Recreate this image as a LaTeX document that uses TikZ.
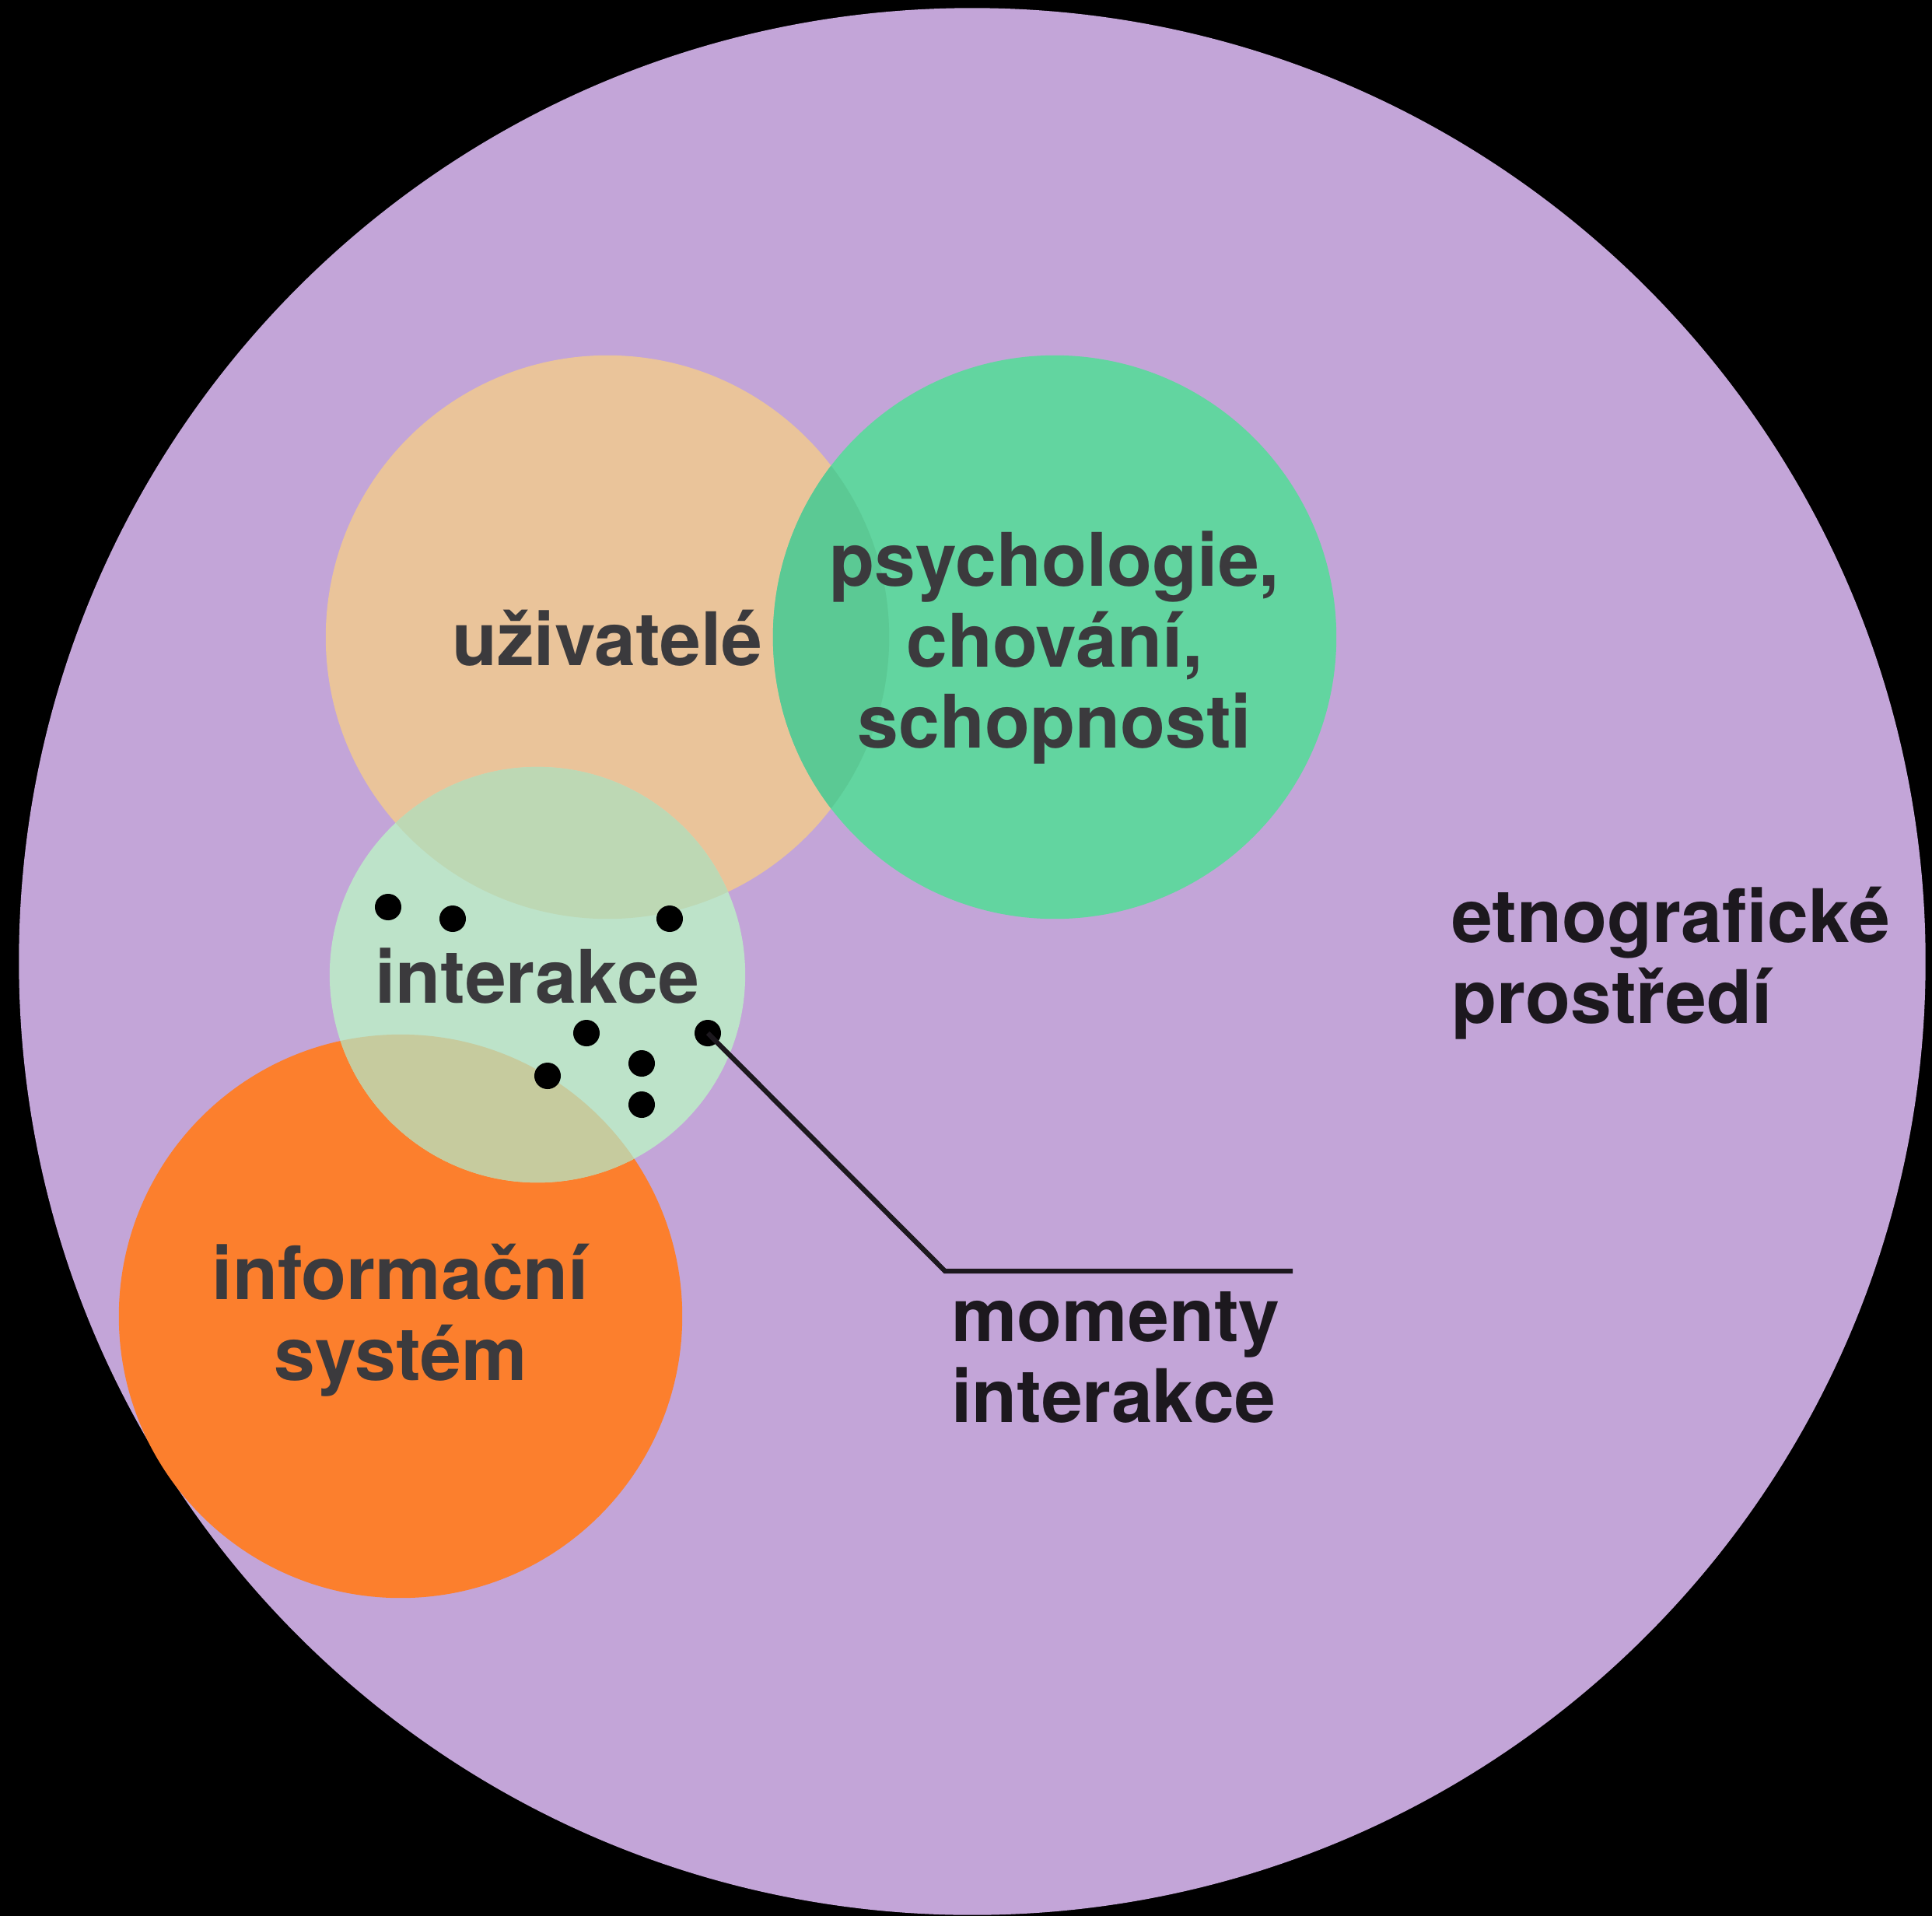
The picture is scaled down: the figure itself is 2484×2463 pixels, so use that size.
\documentclass[tikz,border=0pt]{standalone}
\usepackage{fontspec}
\setmainfont{TeX Gyre Heros}

\definecolor{lilac}{HTML}{C3A5D8}
\definecolor{peach}{HTML}{EAC49A}
\definecolor{leafgreen}{HTML}{62D5A0}
\definecolor{deepgreen}{HTML}{5BC994}
\definecolor{mint}{HTML}{BDE3C9}
\definecolor{mintpeach}{HTML}{BDD8B4}
\definecolor{mintorange}{HTML}{C6CB9E}
\definecolor{sysorange}{HTML}{FC7F2D}
\definecolor{textgrey}{HTML}{3B3A3D}
\definecolor{textblack}{HTML}{1C181E}

\tikzset{
  area/.style={circle, inner sep=0pt, minimum size=7.24cm},
  circtext/.style={font=\bfseries\fontsize{27}{29.5}\selectfont, text=textgrey, align=center, anchor=base},
  outertext/.style={font=\bfseries\fontsize{27}{29.5}\selectfont, text=textblack, align=left, anchor=base west},
  moment/.style={circle, fill=black, inner sep=0pt, minimum size=0.34cm}
}

\begin{document}
\begin{tikzpicture}[x=0.01cm, y=-0.01cm]
            \useasboundingbox (0,0) rectangle (2484,2463);
            \fill[black] (0,0) rectangle (2484,2463);

            % Circles with manual coordinates
            \node[circle, fill=lilac, inner sep=0pt, minimum size=24.5cm] (env) at (1250,1236) {};
            \node[area, fill=peach] (users) at (781,819) {};
            \node[area, fill=sysorange] (system) at (515,1692) {};
            \node[area, fill=leafgreen] (psych) at (1356,819) {};
            \begin{scope}
                \clip (781,819) circle[radius=3.62cm];
                \fill[deepgreen] (1356,819) circle[radius=3.62cm];
            \end{scope}
            \node[circle, fill=mint, inner sep=0pt, minimum size=5.34cm] (inter) at (691,1253) {};
            \begin{scope}
                \clip (691,1253) circle[radius=2.67cm];
                \fill[mintpeach] (781,819) circle[radius=3.62cm];
                \fill[mintorange] (515,1692) circle[radius=3.62cm];
            \end{scope}

            % Labels (base = last line)
            \node[circtext] (userslabel) at (781,855) {uživatelé};
            \node[circtext] (psychlabel) at (1356,961) {psychologie,\\chování,\\schopnosti};
            \node[circtext] (interlabel) at (691,1289) {interakce};
            \node[circtext] (systemlabel) at (515,1774) {informační\\systém};
            \node[outertext] (envlabel) at (1854,1315) {etnografické\\prostředí};
            \node[outertext] (momentlabel) at (1211,1828) {momenty\\interakce};

            % Moments of interaction
            \node[moment] (m1) at (499,1166) {};
            \node[moment] (m2) at (582,1181) {};
            \node[moment] (m3) at (861,1181) {};
            \node[moment] (m4) at (754,1328) {};
            \node[moment] (m5) at (910,1328) {};
            \node[moment] (m6) at (704,1383) {};
            \node[moment] (m7) at (825,1367) {};
            \node[moment] (m8) at (825,1420) {};

            % Pointer
            \coordinate (knee) at (1215,1634);
            \coordinate (tail) at (1662,1634);
            \draw[textblack, line width=1.8pt] (m5.center) -- (knee) -- (tail);
\end{tikzpicture}
\end{document}
